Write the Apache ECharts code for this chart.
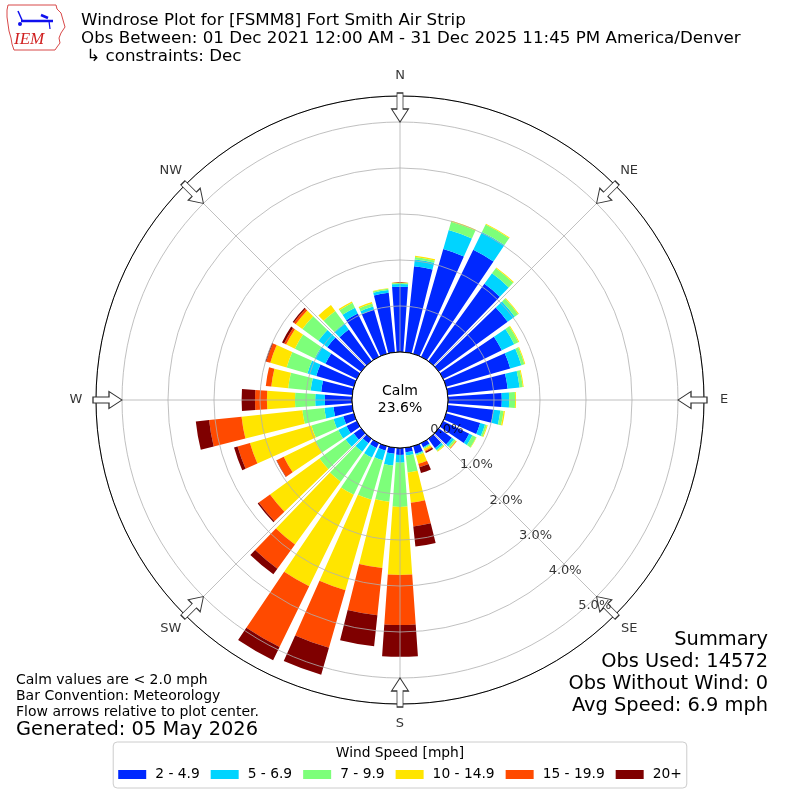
<!DOCTYPE html>
<html>
<head>
<meta charset="utf-8">
<script src="https://cdn.jsdelivr.net/npm/echarts@6/dist/echarts.min.js"></script>
<style>html,body{margin:0;padding:0;background:#fff}#c{width:800px;height:800px}</style>
</head>
<body>
<div id="c"></div>
<script>
// ---- data (percent of observations) ----
const directions = [0,10,20,30,40,50,60,70,80,90,100,110,120,130,140,150,160,170,180,190,200,210,220,230,240,250,260,270,280,290,300,310,320,330,340,350];
const speedBins = ['2 - 4.9','5 - 6.9','7 - 9.9','10 - 14.9','15 - 19.9','20+'];
const binColors = ['#0028ff','#00d4ff','#7dff7a','#ffe500','#ff4a00','#7f0000'];
const bin2to5   = [1.42,1.88,2.37,2.59,2.08,1.85,1.42,1.45,1.31,1.17,1.00,0.77,0.63,0.35,0.25,0.10,0.17,0.10,0.15,0.13,0.10,0.12,0.12,0.20,0.25,0.24,0.41,0.59,0.68,0.85,0.76,0.91,0.85,1.05,1.00,1.30];
const bin5to7   = [0.06,0.15,0.43,0.43,0.28,0.19,0.30,0.25,0.26,0.16,0.15,0.11,0.08,0.06,0.05,0.02,0.02,0.07,0.17,0.26,0.22,0.23,0.23,0.22,0.20,0.22,0.20,0.21,0.23,0.20,0.26,0.24,0.16,0.14,0.07,0.06];
const bin7to10  = [0.02,0.05,0.19,0.18,0.14,0.09,0.10,0.07,0.07,0.13,0.07,0.04,0.09,0.04,0.03,0.02,0.03,0.37,0.96,0.79,0.89,0.90,0.80,0.70,0.55,0.50,0.48,0.44,0.49,0.47,0.48,0.43,0.34,0.12,0.07,0.03];
const bin10to15 = [0.01,0.03,0.02,0.02,0.02,0.02,0.02,0.02,0.02,0.02,0.03,0.02,0.01,0.02,0.02,0.05,0.18,0.66,1.48,1.45,2.05,2.21,1.69,1.33,0.77,1.39,1.33,0.61,0.37,0.37,0.21,0.18,0.16,0.03,0.03,0.01];
const bin15to20 = [0,0,0,0,0,0,0,0,0,0,0,0,0,0.01,0,0.02,0.08,0.52,1.09,1.03,1.30,1.47,0.65,0.30,0.17,0.28,0.71,0.26,0.12,0.09,0.05,0.05,0,0,0,0];
const bin20plus = [0,0,0,0,0,0,0,0,0,0,0,0,0,0,0,0.03,0.13,0.44,0.69,0.68,0.61,0.32,0.15,0.03,0.01,0.08,0.29,0.29,0,0.02,0.05,0.03,0,0,0,0];
const binData = [bin2to5, bin5to7, bin7to10, bin10to15, bin15to20, bin20plus];
const calmPct = 23.6;
const radialTicks = [0,1,2,3,4,5];
const compassNames = ['N','NE','E','SE','S','SW','W','NW'];
const compassAngles = [0,45,90,135,180,225,270,315];

// ---- layout constants ----
const R_INNER = 48, R_OUTER = 304;
const RMAX = 5.565;          // radius value at outer ring
const LABEL_R = 6.0;         // compass label radius (value units)
const ARROW_R = 5.315;       // arrow centre radius (value units)
const TICK_ANGLE = 140;      // bearing of radial tick labels
const FONT = 'DejaVu Sans';

const chart = echarts.init(document.getElementById('c'), null, {renderer: 'canvas'});

const arrowPath = 'path://M5.5,0 L11.5,0 L11.5,16 L17,16 L8.5,29 L0,16 L5.5,16 Z';

const barSeries = speedBins.map((name, i) => ({
  name: name,
  type: 'bar',
  coordinateSystem: 'polar',
  polarIndex: 1,
  stack: 'total',
  barCategoryGap: '20%',
  data: binData[i],
  itemStyle: {color: binColors[i]},
  emphasis: {disabled: true},
  silent: true,
  z: 2
}));

const option = {
  backgroundColor: '#ffffff',
  animation: false,
  title: [
    {
      text: 'Windrose Plot for [FSMM8] Fort Smith Air Strip\nObs Between: 01 Dec 2021 12:00 AM - 31 Dec 2025 11:45 PM America/Denver\n \u21b3 constraints: Dec',
      left: 81, top: 11.5, padding: 0,
      textStyle: {fontFamily: FONT, fontSize: 16.7, fontWeight: 'normal', color: '#000', lineHeight: 18}
    },
    {
      text: 'Wind Speed [mph]',
      left: 'center', top: 746, padding: 0, z: 10,
      textStyle: {fontFamily: FONT, fontSize: 13.8, fontWeight: 'normal', color: '#000', lineHeight: 15}
    }
  ],
  legend: {
    data: speedBins,
    left: 'center', top: 742,
    orient: 'horizontal',
    icon: 'rect',
    itemWidth: 28, itemHeight: 9, itemGap: 11,
    padding: [25.5, 5, 6.5, 5],
    borderColor: '#cccccc', borderWidth: 1, borderRadius: 4,
    backgroundColor: '#ffffff',
    selectedMode: false,
    textStyle: {fontFamily: FONT, fontSize: 13.8, color: '#000', lineHeight: 14, padding: [0, 0, 0, 4]}
  },
  polar: [
    {center: ['50%', '50%'], radius: [R_INNER, R_OUTER]},
    {center: ['50%', '50%'], radius: [R_INNER, R_OUTER]}
  ],
  angleAxis: [
    {
      polarIndex: 0, type: 'value', min: 0, max: 360, interval: 45,
      startAngle: 90, clockwise: true, z: 5,
      axisLine: {show: true, lineStyle: {color: '#000', width: 1}},
      axisTick: {show: false}, axisLabel: {show: false},
      splitLine: {show: true, lineStyle: {color: '#b0b0b0', width: 0.8}}
    },
    {
      polarIndex: 1, type: 'category', data: directions.map(String),
      startAngle: 95, clockwise: true,
      axisLine: {show: false}, axisTick: {show: false}, axisLabel: {show: false},
      splitLine: {show: false}
    }
  ],
  radiusAxis: [
    {
      polarIndex: 0, type: 'value', min: 0, max: RMAX, interval: 1, z: 5,
      axisLine: {show: false}, axisTick: {show: false}, axisLabel: {show: false},
      splitLine: {show: true, lineStyle: {color: '#b0b0b0', width: 0.8}}
    },
    {
      polarIndex: 1, type: 'value', min: 0, max: RMAX,
      axisLine: {show: false}, axisTick: {show: false}, axisLabel: {show: false},
      splitLine: {show: false}
    }
  ],
  series: barSeries.concat([
    {
      name: 'arrows', type: 'scatter', coordinateSystem: 'polar', polarIndex: 0,
      clip: false, silent: true, z: 6,
      symbol: arrowPath, symbolSize: [17, 29],
      data: compassAngles.map(a => ({value: [ARROW_R, a], symbolRotate: -a})),
      itemStyle: {color: '#ffffff', borderColor: '#333333', borderWidth: 1, opacity: 1},
      emphasis: {disabled: true}
    },
    {
      name: 'compass', type: 'scatter', coordinateSystem: 'polar', polarIndex: 0,
      clip: false, silent: true, z: 6, symbolSize: 1,
      itemStyle: {color: 'rgba(0,0,0,0)'},
      data: compassAngles.map((a, i) => ({value: [LABEL_R, a], name: compassNames[i]})),
      label: {show: true, position: 'inside', formatter: p => p.name,
              fontFamily: FONT, fontSize: 13, color: '#000'},
      emphasis: {disabled: true}
    },
    {
      name: 'ticks', type: 'scatter', coordinateSystem: 'polar', polarIndex: 0,
      clip: false, silent: true, z: 12, symbolSize: 1,
      itemStyle: {color: 'rgba(0,0,0,0)'},
      data: radialTicks.map(t => ({value: [t, TICK_ANGLE], name: t.toFixed(1) + '%'})),
      label: {show: true, position: [0, 0], align: 'left', verticalAlign: 'bottom',
              formatter: p => p.name, fontFamily: FONT, fontSize: 13, color: '#000'},
      emphasis: {disabled: true}
    },
    {
      name: 'Calm', type: 'pie', center: ['50%', '50%'], radius: [0, R_INNER],
      silent: true, z: 10, startAngle: 90,
      data: [{value: calmPct, name: 'Calm'}],
      itemStyle: {color: '#ffffff', borderColor: '#000000', borderWidth: 1},
      label: {show: true, position: 'center', formatter: 'Calm\n' + calmPct.toFixed(1) + '%',
              fontFamily: FONT, fontSize: 14, lineHeight: 17, color: '#000'},
      labelLine: {show: false},
      emphasis: {disabled: true}
    }
  ]),
  graphic: [
    // IEM logo (approximate)
    {type: 'polyline', z: 20, silent: true,
     shape: {points: [[8,5],[56,5],[57,9],[61,13],[63,20],[65,27],[61,33],[59,38],[60,43],[57,47],[55,50],[14,50],[12,44],[11,38],[9,31],[8,24],[7,17],[7,10],[8,5]]},
     style: {stroke: '#d84848', lineWidth: 1, fill: null}},
    {type: 'line', z: 20, silent: true, shape: {x1: 21, y1: 21, x2: 53, y2: 21}, style: {stroke: '#1010ee', lineWidth: 2.5}},
    {type: 'line', z: 20, silent: true, shape: {x1: 18, y1: 11, x2: 22, y2: 20}, style: {stroke: '#1010ee', lineWidth: 1.5}},
    {type: 'line', z: 20, silent: true, shape: {x1: 41, y1: 15, x2: 48, y2: 18}, style: {stroke: '#1010ee', lineWidth: 2.5}},
    {type: 'line', z: 20, silent: true, shape: {x1: 49, y1: 21, x2: 50, y2: 29}, style: {stroke: '#1010ee', lineWidth: 1.2}},
    {type: 'circle', z: 20, silent: true, shape: {cx: 20, cy: 24, r: 2}, style: {fill: '#1010ee'}},
    {type: 'text', z: 20, silent: true,
     style: {text: 'IEM', x: 14, y: 31, fontFamily: 'Liberation Serif', fontStyle: 'italic', fontSize: 17, fill: '#d02020'}},
    // notes
    {type: 'text', z: 20, silent: true,
     style: {text: 'Calm values are < 2.0 mph\nBar Convention: Meteorology\nFlow arrows relative to plot center.',
             x: 16, y: 672, fontFamily: FONT, fontSize: 14, lineHeight: 16.3, fill: '#000', align: 'left', verticalAlign: 'top'}},
    {type: 'text', z: 20, silent: true,
     style: {text: 'Generated: 05 May 2026', x: 16, y: 730, fontFamily: FONT, fontSize: 19.4, fill: '#000', align: 'left', verticalAlign: 'middle'}},
    {type: 'text', z: 20, silent: true,
     style: {text: 'Summary\nObs Used: 14572\nObs Without Wind: 0\nAvg Speed: 6.9 mph',
             x: 768, y: 629, fontFamily: FONT, fontSize: 19.4, lineHeight: 22, fill: '#000', align: 'right', verticalAlign: 'top'}}
  ]
};

chart.setOption(option);
</script>
</body>
</html>
